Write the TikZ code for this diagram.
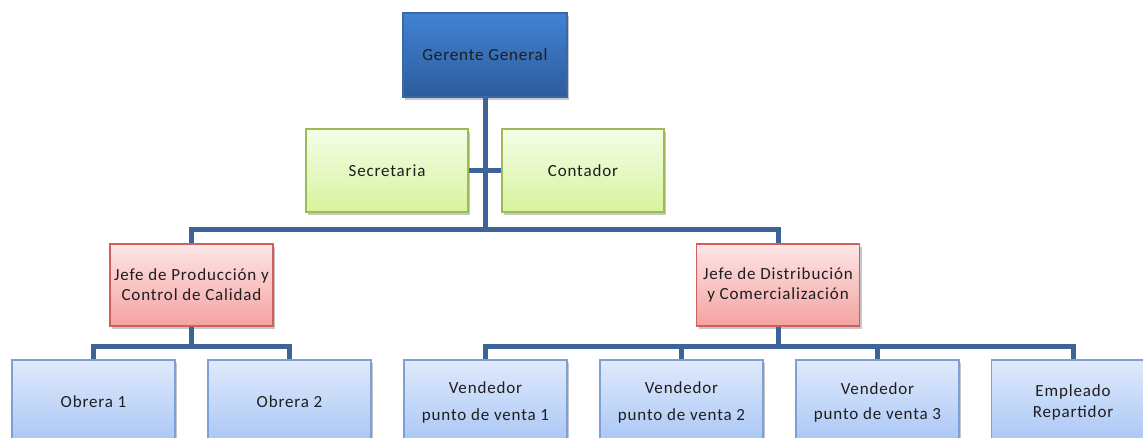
\documentclass[tikz,border=0pt]{standalone}
\usepackage{fontspec}
\setmainfont{Carlito}[LetterSpace=5.0]
\usetikzlibrary{shadows}
\definecolor{linec}{HTML}{3D6399}
\definecolor{ggtop}{HTML}{4282D4}
\definecolor{ggbot}{HTML}{2C5C9C}
\definecolor{ggbord}{HTML}{3868A8}
\definecolor{grtop}{HTML}{F6FDE8}
\definecolor{grbot}{HTML}{D6F49C}
\definecolor{grbord}{HTML}{9BBB59}
\definecolor{rdtop}{HTML}{FDE6E6}
\definecolor{rdbot}{HTML}{F4A2A2}
\definecolor{rdbord}{HTML}{D0605E}
\definecolor{bltop}{HTML}{E0EAFB}
\definecolor{blbot}{HTML}{A8C6F6}
\definecolor{blbord}{HTML}{7DA1D6}
\definecolor{txt}{HTML}{1E1E1E}
\tikzset{
  box/.style={rectangle, draw, line width=1.3pt, align=center, text=txt,
    font=\fontsize{17}{20}\selectfont,
    drop shadow={shadow xshift=2pt, shadow yshift=-3pt, fill=black, opacity=0.22}},
  topbox/.style={box, draw=ggbord, top color=ggtop, bottom color=ggbot,
    minimum width=164pt, minimum height=84pt},
  greenbox/.style={box, draw=grbord, top color=grtop, bottom color=grbot,
    minimum width=162pt, minimum height=83pt},
  redbox/.style={box, draw=rdbord, top color=rdtop, bottom color=rdbot,
    minimum width=163pt, minimum height=82pt},
  bluebox/.style={box, draw=blbord, top color=bltop, bottom color=blbot,
    minimum width=163pt, minimum height=84pt},
  conn/.style={draw=linec, line width=5pt}
}
\begin{document}
\begin{tikzpicture}[x=1pt, y=-1pt]
\useasboundingbox (0,0) rectangle (1143,437);
\clip (0,0) rectangle (1143,437);
\fill[white] (0,0) rectangle (1143,437);

% connectors first
\coordinate (ggs) at (485.5,97);
\coordinate (jln) at (191.5,244);
\coordinate (jrn) at (778,244);
\coordinate (jls) at (191.5,326);
\coordinate (jrs) at (778,326);

\node[topbox] (gg) at (485,55) {Gerente General};
\node[greenbox] (sec) at (387,170.5) {Secretaria};
\node[greenbox] (con) at (583,170.5) {Contador};
\node[redbox] (jl) at (191.5,285) {Jefe de Producción y\\Control de Calidad};
\node[redbox] (jr) at (778,285) {Jefe de Distribución\\y Comercialización};

\node[bluebox] (o1) at (93.5,402) {Obrera 1};
\node[bluebox] (o2) at (289.5,402) {Obrera 2};
\node[bluebox, font=\fontsize{17}{27}\selectfont] (v1) at (485.5,402) {Vendedor\\punto de venta 1};
\node[bluebox, font=\fontsize{17}{27}\selectfont] (v2) at (681.5,402) {Vendedor\\punto de venta 2};
\node[bluebox, font=\fontsize{17}{25}\selectfont] (v3) at (877.5,402) {Vendedor\\punto de venta 3};
\node[bluebox, font=\fontsize{17}{21}\selectfont] (emp) at (1073,402) {Empleado\\Repartidor};

\begin{scope}[line join=miter]
\draw[conn] (gg.south) -- ++(0,132) -| (jl.north);
\draw[conn] (gg.south) -- ++(0,132) -| (jr.north);
\draw[conn] (sec.east) -- (con.west);
\draw[conn] (jl.south) -- ++(0,20) -| (o1.north);
\draw[conn] (jl.south) -- ++(0,20) -| (o2.north);
\draw[conn] (jr.south) -- ++(0,20) -| (v1.north);
\draw[conn] (jr.south) -- ++(0,20) -| (v2.north);
\draw[conn] (jr.south) -- ++(0,20) -| (v3.north);
\draw[conn] (jr.south) -- ++(0,20) -| (emp.north);
\end{scope}
\end{tikzpicture}
\end{document}
